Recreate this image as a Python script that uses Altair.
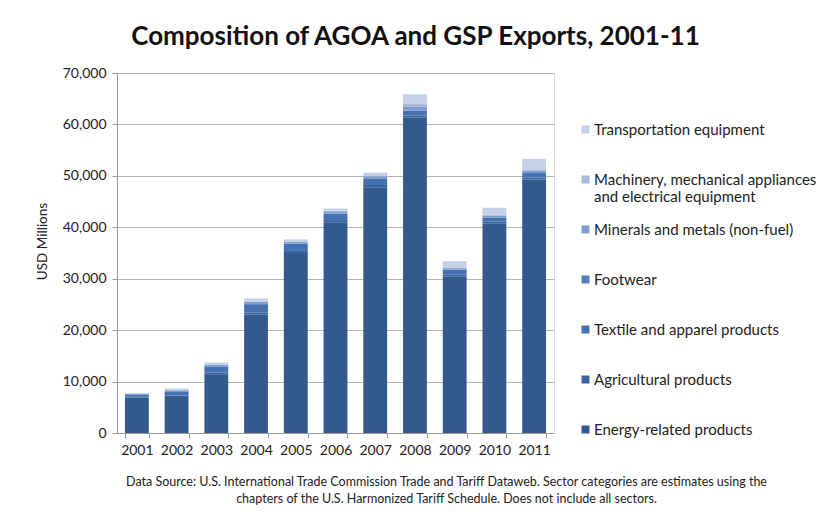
import altair as alt
import pandas as pd

years = ["2001", "2002", "2003", "2004", "2005", "2006", "2007", "2008", "2009", "2010", "2011"]

categories = [
    "Energy-related products",
    "Agricultural products",
    "Textile and apparel products",
    "Footwear",
    "Minerals and metals (non-fuel)",
    "Machinery, mechanical appliances and electrical equipment",
    "Transportation equipment",
]

energy = [6900, 7000, 11400, 23000, 35000, 41000, 47800, 61300, 30500, 40800, 49300]
agricultural = [250, 300, 350, 450, 400, 400, 400, 400, 350, 350, 400]
textile = [350, 800, 1200, 1600, 1400, 1250, 1200, 1000, 900, 750, 850]
footwear = [10, 10, 10, 10, 10, 10, 10, 10, 10, 10, 10]
minerals = [100, 200, 300, 450, 350, 450, 500, 700, 300, 300, 400]
machinery = [70, 100, 100, 100, 100, 150, 200, 550, 150, 200, 300]
transport = [100, 250, 350, 550, 400, 400, 500, 1900, 1200, 1400, 2050]

series = [energy, agricultural, textile, footwear, minerals, machinery, transport]
colors = ["#34598B", "#3A64A0", "#4471B2", "#4F81BD", "#7F9ECF", "#A6B8DB", "#C7D1E6"]

rows = []
for ci, (cat, vals) in enumerate(zip(categories, series)):
    for y, v in zip(years, vals):
        rows.append({"Year": y, "Category": cat, "Value": v, "order": ci})
df = pd.DataFrame(rows)

font = "Lato"
legend_domain = categories[::-1]
legend_range = colors[::-1]

label_expr = (
    "datum.label == 'Machinery, mechanical appliances and electrical equipment' ? "
    "['Machinery, mechanical appliances', 'and electrical equipment'] : datum.label"
)

footnote = [
    "Data Source: U.S. International Trade Commission Trade and Tariff Dataweb. Sector categories  are estimates using the",
    "chapters  of the U.S. Harmonized Tariff Schedule. Does not include all sectors.",
]

chart = (
    alt.Chart(df)
    .mark_bar()
    .encode(
        x=alt.X(
            "Year:N",
            sort=years,
            scale=alt.Scale(paddingInner=0.4, paddingOuter=0.2),
            axis=alt.Axis(
                title=footnote,
                titleFont=font,
                titleFontSize=12.5,
                titleFontWeight="normal",
                titleColor="#222222",
                titleX=329,
                titleY=42,
                titleAlign="center",
                titleBaseline="top",
                titleLineHeight=17,
                labelAngle=0,
                labelFont=font,
                labelFontSize=14,
                labelColor="#222222",
                labelPadding=5,
                tickBand="extent",
                tickSize=5,
                tickColor="#9A9A9A",
                domainColor="#9A9A9A",
                grid=False,
            ),
        ),
        y=alt.Y(
            "sum(Value):Q",
            scale=alt.Scale(domain=[0, 70000]),
            axis=alt.Axis(
                title="USD Millions",
                titleFont=font,
                titleFontSize=13.5,
                titleFontWeight="normal",
                titleColor="#222222",
                titleX=-75,
                titleY=168,
                titleAlign="center",
                titleBaseline="middle",
                titleAngle=-90,
                values=[0, 10000, 20000, 30000, 40000, 50000, 60000, 70000],
                format=",.0f",
                labelFont=font,
                labelFontSize=14,
                labelColor="#222222",
                labelPadding=6,
                tickSize=5,
                tickColor="#9A9A9A",
                domainColor="#9A9A9A",
                gridColor="#B4B4B4",
                gridWidth=1,
            ),
        ),
        color=alt.Color(
            "Category:N",
            scale=alt.Scale(domain=legend_domain, range=legend_range),
            legend=alt.Legend(
                title=None,
                orient="none",
                legendX=461,
                legendY=49,
                padding=0,
                symbolType="square",
                symbolSize=64,
                symbolStrokeWidth=0,
                labelFont=font,
                labelFontSize=15,
                labelColor="#222222",
                labelLimit=340,
                labelOffset=1,
                labelExpr=label_expr,
                gridAlign="all",
                rowPadding=17,
            ),
        ),
        order=alt.Order("order:Q", sort="ascending"),
    )
    .properties(
        width=437,
        height=360,
        autosize=alt.AutoSizeParams(type="none"),
        padding={"left": 109, "top": 65, "right": 268, "bottom": 74},
        title=alt.TitleParams(
            "Composition of AGOA and GSP Exports, 2001-11",
            font=font,
            fontSize=26,
            fontWeight="bold",
            color="#111111",
            anchor="middle",
            dx=80,
            offset=16,
        ),
    )
    .configure_view(stroke=None)
    .configure(background="white")
)

chart.save("out.html", embed_options={"renderer": "svg", "actions": False})
